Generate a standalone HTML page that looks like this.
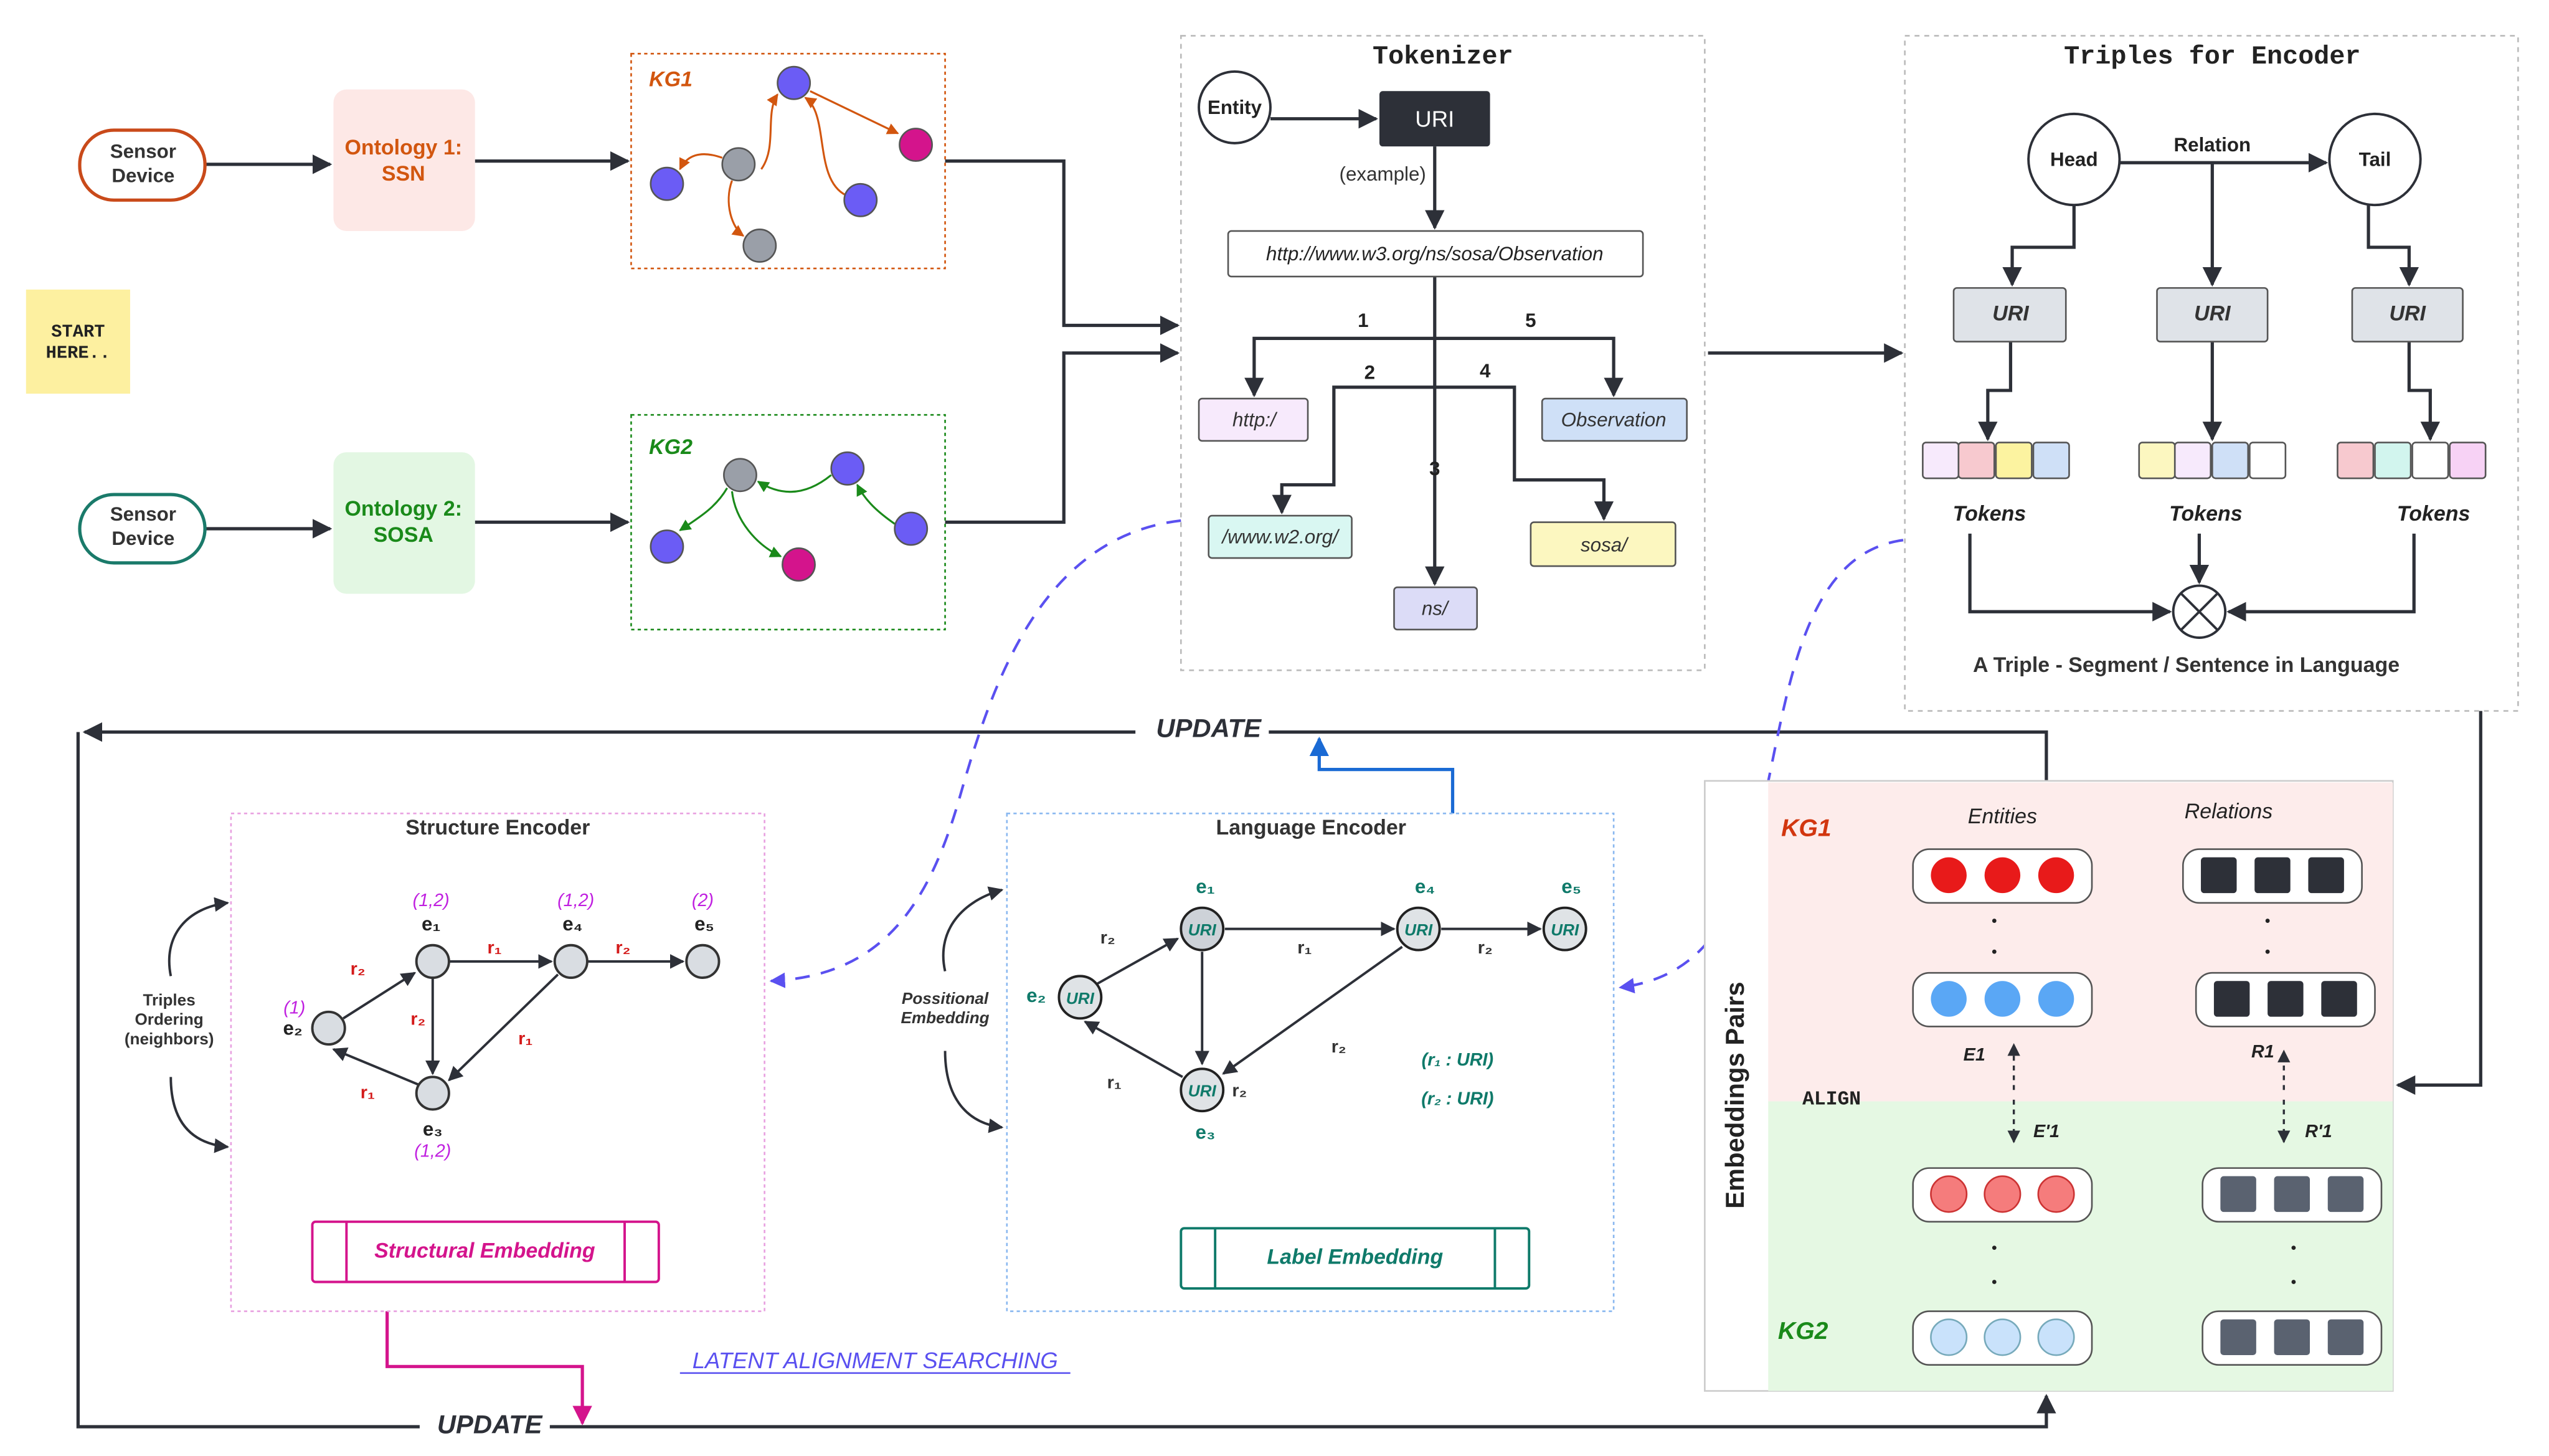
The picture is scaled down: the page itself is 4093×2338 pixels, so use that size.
<!DOCTYPE html>
<html><head><meta charset="utf-8"><style>
html,body{margin:0;padding:0;background:#fff;}
svg{display:block;}
text{font-family:"Liberation Sans",sans-serif;}
.mono{font-family:"Liberation Mono",monospace;}
</style></head><body>
<svg width="4093" height="2338" viewBox="0 0 1567 895" preserveAspectRatio="none" xmlns="http://www.w3.org/2000/svg">
<defs>
<marker id="a" viewBox="0 0 10 10" refX="9" refY="5" markerWidth="6" markerHeight="6" orient="auto-start-reverse"><path d="M0,0L10,5L0,10z" fill="#2d3038"/></marker>
<marker id="ao" viewBox="0 0 10 10" refX="9" refY="5" markerWidth="6" markerHeight="6" orient="auto"><path d="M0,0L10,5L0,10z" fill="#d2560f"/></marker>
<marker id="ag" viewBox="0 0 10 10" refX="9" refY="5" markerWidth="6" markerHeight="6" orient="auto"><path d="M0,0L10,5L0,10z" fill="#1a8a1a"/></marker>
<marker id="ab" viewBox="0 0 10 10" refX="9" refY="5" markerWidth="6" markerHeight="6" orient="auto"><path d="M0,0L10,5L0,10z" fill="#1a6ad4"/></marker>
<marker id="am" viewBox="0 0 10 10" refX="9" refY="5" markerWidth="6" markerHeight="6" orient="auto"><path d="M0,0L10,5L0,10z" fill="#d4148c"/></marker>
<marker id="ap" viewBox="0 0 10 10" refX="9" refY="5" markerWidth="6" markerHeight="6" orient="auto"><path d="M0,0L10,5L0,10z" fill="#5a50f0"/></marker>
</defs>
<g fill="none" stroke="#2d3038" stroke-width="2">
<path d="M126,101H203" marker-end="url(#a)"/>
<path d="M292,99H386" marker-end="url(#a)"/>
<path d="M126,325H203" marker-end="url(#a)"/>
<path d="M292,321H386" marker-end="url(#a)"/>
<path d="M581,99H654V200H724" marker-end="url(#a)"/>
<path d="M581,321H654V217H724" marker-end="url(#a)"/>
<path d="M1050,217H1169" marker-end="url(#a)"/>
<path d="M1525,437V667H1474" marker-end="url(#a)"/>
<path d="M781,73H846" marker-end="url(#a)"/>
<path d="M882,90V140" marker-end="url(#a)"/>
<path d="M882,170V359" marker-end="url(#a)"/>
<path d="M882,208H771V243" marker-end="url(#a)"/>
<path d="M882,208H992V243" marker-end="url(#a)"/>
<path d="M882,238H820V298H788V315" marker-end="url(#a)"/>
<path d="M882,238H931V295H986V319" marker-end="url(#a)"/>
<path d="M1303,100H1430" marker-end="url(#a)"/>
<path d="M1275,126V152H1237V175" marker-end="url(#a)"/>
<path d="M1360,100V175" marker-end="url(#a)"/>
<path d="M1456,126V152H1481V175" marker-end="url(#a)"/>
<path d="M1236,210V240H1222V270" marker-end="url(#a)"/>
<path d="M1360,210V270" marker-end="url(#a)"/>
<path d="M1481,210V240H1494V270" marker-end="url(#a)"/>
<path d="M1211,328V376H1334" marker-end="url(#a)"/>
<path d="M1484,328V376H1370" marker-end="url(#a)"/>
<path d="M1352,328V358" marker-end="url(#a)"/>
<path d="M1258,480V450H780M698,450H52" marker-end="url(#a)"/>
<path d="M48,450V877H258M338,877H1258V858" marker-end="url(#a)"/>
</g>
<path d="M893,500V473H811V454" fill="none" stroke="#1a6ad4" stroke-width="2" marker-end="url(#ab)"/>
<path d="M238,806V840H358V875" fill="none" stroke="#d4148c" stroke-width="2" marker-end="url(#am)"/>
<path d="M726,320C640,330 610,420 590,490C570,560 540,600 474,603" fill="none" stroke="#5a50f0" stroke-width="1.6" stroke-dasharray="9,7" marker-end="url(#ap)"/>
<path d="M1170,332C1110,340 1100,420 1085,490C1070,560 1050,600 996,607" fill="none" stroke="#5a50f0" stroke-width="1.6" stroke-dasharray="9,7" marker-end="url(#ap)"/>
<text x="743" y="453" font-size="16" font-weight="bold" font-style="italic" text-anchor="middle" fill="#2d3038">UPDATE</text>
<text x="301" y="881" font-size="16" font-weight="bold" font-style="italic" text-anchor="middle" fill="#2d3038">UPDATE</text>

<rect x="49" y="80" width="77" height="43" rx="21" fill="#fff" stroke="#c94a1a" stroke-width="2"/>
<text x="88" y="97" font-size="12" font-weight="bold" text-anchor="middle" fill="#333">Sensor</text>
<text x="88" y="112" font-size="12" font-weight="bold" text-anchor="middle" fill="#333">Device</text>
<rect x="49" y="304" width="77" height="42" rx="21" fill="#fff" stroke="#1a7a6a" stroke-width="2"/>
<text x="88" y="320" font-size="12" font-weight="bold" text-anchor="middle" fill="#333">Sensor</text>
<text x="88" y="335" font-size="12" font-weight="bold" text-anchor="middle" fill="#333">Device</text>
<rect x="205" y="55" width="87" height="87" rx="8" fill="#fde8e6"/>
<text x="248" y="95" font-size="13" font-weight="bold" text-anchor="middle" fill="#d2560f">Ontology 1:</text>
<text x="248" y="111" font-size="13" font-weight="bold" text-anchor="middle" fill="#d2560f">SSN</text>
<rect x="205" y="278" width="87" height="87" rx="8" fill="#e3f7e3"/>
<text x="248" y="317" font-size="13" font-weight="bold" text-anchor="middle" fill="#1a8a1a">Ontology 2:</text>
<text x="248" y="333" font-size="13" font-weight="bold" text-anchor="middle" fill="#1a8a1a">SOSA</text>
<rect x="16" y="178" width="64" height="64" fill="#fdf0a0"/>
<text x="48" y="207" font-size="11" font-weight="bold" text-anchor="middle" fill="#222" class="mono">START</text>
<text x="48" y="220" font-size="11" font-weight="bold" text-anchor="middle" fill="#222" class="mono">HERE..</text>

<rect x="388" y="33" width="193" height="132" fill="none" stroke="#d2560f" stroke-dasharray="2,2"/>
<text x="399" y="53" font-size="13" font-weight="bold" font-style="italic" fill="#d2560f">KG1</text>
<g fill="none" stroke="#d2560f" stroke-width="1.2">
<path d="M498,56L552,82" marker-end="url(#ao)"/>
<path d="M444,97C430,92 422,96 418,104" marker-end="url(#ao)"/>
<path d="M468,104C478,90 470,70 478,58" marker-end="url(#ao)"/>
<path d="M520,120C500,110 510,70 495,60" marker-end="url(#ao)"/>
<path d="M450,111C445,125 450,140 457,145" marker-end="url(#ao)"/>
</g>
<g stroke="#555" stroke-width="1">
<circle cx="488" cy="51" r="10" fill="#6b5cf5"/><circle cx="563" cy="89" r="10" fill="#d4148c"/>
<circle cx="454" cy="101" r="10" fill="#9a9fa8"/><circle cx="410" cy="113" r="10" fill="#6b5cf5"/>
<circle cx="529" cy="123" r="10" fill="#6b5cf5"/><circle cx="467" cy="151" r="10" fill="#9a9fa8"/>
</g>
<rect x="388" y="255" width="193" height="132" fill="none" stroke="#1a8a1a" stroke-dasharray="2,2"/>
<text x="399" y="279" font-size="13" font-weight="bold" font-style="italic" fill="#1a8a1a">KG2</text>
<g fill="none" stroke="#1a8a1a" stroke-width="1.2">
<path d="M511,292C495,305 480,305 466,296" marker-end="url(#ag)"/>
<path d="M447,300C440,312 430,318 418,326" marker-end="url(#ag)"/>
<path d="M450,302C452,320 465,335 480,342" marker-end="url(#ag)"/>
<path d="M550,322C540,315 532,308 527,298" marker-end="url(#ag)"/>
</g>
<g stroke="#555" stroke-width="1">
<circle cx="455" cy="292" r="10" fill="#9a9fa8"/><circle cx="521" cy="288" r="10" fill="#6b5cf5"/>
<circle cx="410" cy="336" r="10" fill="#6b5cf5"/><circle cx="491" cy="347" r="10" fill="#d4148c"/>
<circle cx="560" cy="325" r="10" fill="#6b5cf5"/>
</g>

<rect x="726" y="22" width="322" height="390" fill="none" stroke="#bbb" stroke-dasharray="3,3"/>
<text x="887" y="39" font-size="16" font-weight="bold" text-anchor="middle" class="mono" fill="#222">Tokenizer</text>
<circle cx="759" cy="66" r="22" fill="#fff" stroke="#2d3038" stroke-width="1.5"/>
<text x="759" y="70" font-size="12" font-weight="bold" text-anchor="middle" fill="#222">Entity</text>
<rect x="848" y="56" width="68" height="34" rx="2" fill="#2d3038"/>
<text x="882" y="78" font-size="14" text-anchor="middle" fill="#fff">URI</text>
<text x="850" y="111" font-size="12" text-anchor="middle" fill="#333">(example)</text>
<rect x="755" y="142" width="255" height="28" rx="2" fill="#fff" stroke="#555"/>
<text x="882" y="160" font-size="12" font-style="italic" text-anchor="middle" fill="#222">http://www.w3.org/ns/sosa/Observation</text>
<g font-size="12" font-weight="bold" text-anchor="middle" fill="#222">
<text x="838" y="201">1</text><text x="941" y="201">5</text><text x="842" y="233">2</text><text x="913" y="232">4</text><text x="882" y="292">3</text>
</g>
<g stroke="#555" stroke-width="1">
<rect x="737" y="245" width="67" height="26" rx="2" fill="#f7eafc"/>
<rect x="948" y="245" width="89" height="26" rx="2" fill="#cfe0f7"/>
<rect x="743" y="317" width="88" height="26" rx="2" fill="#d9f7f2"/>
<rect x="941" y="321" width="89" height="27" rx="2" fill="#fcf7c0"/>
<rect x="857" y="361" width="51" height="26" rx="2" fill="#dcdcf7"/>
</g>
<g font-size="12" font-style="italic" text-anchor="middle" fill="#333">
<text x="771" y="262">http:/</text><text x="992" y="262">Observation</text><text x="787" y="334">/www.w2.org/</text>
<text x="986" y="339">sosa/</text><text x="882" y="378">ns/</text>
</g>

<rect x="1171" y="22" width="377" height="415" fill="none" stroke="#bbb" stroke-dasharray="3,3"/>
<text x="1360" y="39" font-size="16" font-weight="bold" text-anchor="middle" class="mono" fill="#222">Triples for Encoder</text>
<circle cx="1275" cy="98" r="28" fill="#fff" stroke="#2d3038" stroke-width="1.5"/>
<circle cx="1460" cy="98" r="28" fill="#fff" stroke="#2d3038" stroke-width="1.5"/>
<text x="1275" y="102" font-size="12" font-weight="bold" text-anchor="middle" fill="#222">Head</text>
<text x="1460" y="102" font-size="12" font-weight="bold" text-anchor="middle" fill="#222">Tail</text>
<text x="1360" y="93" font-size="12" font-weight="bold" text-anchor="middle" fill="#222">Relation</text>
<g fill="#dfe3e8" stroke="#555"><rect x="1201" y="177" width="69" height="33" rx="2"/><rect x="1326" y="177" width="68" height="33" rx="2"/><rect x="1446" y="177" width="68" height="33" rx="2"/></g>
<g font-size="13" font-weight="bold" font-style="italic" text-anchor="middle" fill="#333"><text x="1236" y="197">URI</text><text x="1360" y="197">URI</text><text x="1480" y="197">URI</text></g>
<g stroke="#555">
<rect x="1182" y="272" width="22" height="22" rx="2" fill="#f7eafc"/><rect x="1204" y="272" width="22" height="22" rx="2" fill="#f7c9cf"/><rect x="1227" y="272" width="22" height="22" rx="2" fill="#fcf3a0"/><rect x="1250" y="272" width="22" height="22" rx="2" fill="#cfe0f7"/>
<rect x="1315" y="272" width="22" height="22" rx="2" fill="#fcf7c0"/><rect x="1337" y="272" width="22" height="22" rx="2" fill="#f7eafc"/><rect x="1360" y="272" width="22" height="22" rx="2" fill="#cfe0f7"/><rect x="1383" y="272" width="22" height="22" rx="2" fill="#fff"/>
<rect x="1437" y="272" width="22" height="22" rx="2" fill="#f7c9cf"/><rect x="1460" y="272" width="22" height="22" rx="2" fill="#d2f5ee"/><rect x="1483" y="272" width="22" height="22" rx="2" fill="#fff"/><rect x="1506" y="272" width="22" height="22" rx="2" fill="#f7d2f5"/>
</g>
<g font-size="13" font-weight="bold" font-style="italic" text-anchor="middle" fill="#222"><text x="1223" y="320">Tokens</text><text x="1356" y="320">Tokens</text><text x="1496" y="320">Tokens</text></g>
<circle cx="1352" cy="376" r="16" fill="#fff" stroke="#2d3038" stroke-width="1.5"/>
<path d="M1341,365L1363,387M1363,365L1341,387" stroke="#2d3038" stroke-width="1.5"/>
<text x="1344" y="413" font-size="13" font-weight="bold" text-anchor="middle" fill="#333">A Triple - Segment / Sentence in Language</text>

<rect x="1048" y="480" width="423" height="375" fill="#fff" stroke="#ccc"/>
<rect x="1087" y="481" width="384" height="196" fill="#fdeceb"/>
<rect x="1087" y="677" width="384" height="178" fill="#e5f8e3"/>
<text transform="translate(1072,743) rotate(-90)" font-size="16" font-weight="bold" fill="#222">Embeddings Pairs</text>
<text x="1095" y="514" font-size="15" font-weight="bold" font-style="italic" fill="#d2360f">KG1</text>
<text x="1093" y="823" font-size="15" font-weight="bold" font-style="italic" fill="#1a8a1a">KG2</text>
<text x="1231" y="506" font-size="13" font-style="italic" text-anchor="middle" fill="#222">Entities</text>
<text x="1370" y="503" font-size="13" font-style="italic" text-anchor="middle" fill="#222">Relations</text>
<text x="1126" y="679" font-size="12" font-weight="bold" text-anchor="middle" class="mono" fill="#222">ALIGN</text>
<g stroke="#555" fill="#fff">
<rect x="1176" y="522" width="110" height="33" rx="10"/><rect x="1176" y="598" width="110" height="33" rx="10"/>
<rect x="1176" y="718" width="110" height="33" rx="10"/><rect x="1176" y="806" width="110" height="33" rx="10"/>
<rect x="1342" y="522" width="110" height="33" rx="10"/><rect x="1350" y="598" width="110" height="33" rx="10"/>
<rect x="1354" y="718" width="110" height="33" rx="10"/><rect x="1354" y="806" width="110" height="33" rx="10"/>
</g>
<g fill="#e81a1a"><circle cx="1198" cy="538" r="11"/><circle cx="1231" cy="538" r="11"/><circle cx="1264" cy="538" r="11"/></g>
<g fill="#5aa7f5"><circle cx="1198" cy="614" r="11"/><circle cx="1231" cy="614" r="11"/><circle cx="1264" cy="614" r="11"/></g>
<g fill="#f57c7c" stroke="#c33"><circle cx="1198" cy="734" r="11"/><circle cx="1231" cy="734" r="11"/><circle cx="1264" cy="734" r="11"/></g>
<g fill="#c9e2fb" stroke="#7ab"><circle cx="1198" cy="822" r="11"/><circle cx="1231" cy="822" r="11"/><circle cx="1264" cy="822" r="11"/></g>
<g fill="#2d3038"><rect x="1353" y="527" width="22" height="22" rx="2"/><rect x="1386" y="527" width="22" height="22" rx="2"/><rect x="1419" y="527" width="22" height="22" rx="2"/>
<rect x="1361" y="603" width="22" height="22" rx="2"/><rect x="1394" y="603" width="22" height="22" rx="2"/><rect x="1427" y="603" width="22" height="22" rx="2"/></g>
<g fill="#5a6270"><rect x="1365" y="723" width="22" height="22" rx="2"/><rect x="1398" y="723" width="22" height="22" rx="2"/><rect x="1431" y="723" width="22" height="22" rx="2"/>
<rect x="1365" y="811" width="22" height="22" rx="2"/><rect x="1398" y="811" width="22" height="22" rx="2"/><rect x="1431" y="811" width="22" height="22" rx="2"/></g>
<g fill="#222"><circle cx="1226" cy="566" r="1.3"/><circle cx="1226" cy="585" r="1.3"/><circle cx="1394" cy="566" r="1.3"/><circle cx="1394" cy="585" r="1.3"/>
<circle cx="1226" cy="767" r="1.3"/><circle cx="1226" cy="788" r="1.3"/><circle cx="1410" cy="767" r="1.3"/><circle cx="1410" cy="788" r="1.3"/></g>
<g fill="none" stroke="#2d3038" stroke-width="1.3" stroke-dasharray="3,3">
<path d="M1238,670V642" marker-end="url(#a)"/><path d="M1238,676V702" marker-end="url(#a)"/>
<path d="M1404,670V646" marker-end="url(#a)"/><path d="M1404,676V702" marker-end="url(#a)"/>
</g>
<g font-size="11" font-weight="bold" font-style="italic" fill="#222" class="mono">
<text x="1207" y="652">E1</text><text x="1250" y="699">E'1</text><text x="1384" y="650">R1</text><text x="1417" y="699">R'1</text>
</g>

<rect x="142" y="500" width="328" height="306" fill="none" stroke="#e8a0e0" stroke-dasharray="2,2"/>
<text x="306" y="513" font-size="13" font-weight="bold" text-anchor="middle" fill="#333">Structure Encoder</text>
<text x="104" y="618" font-size="10" font-weight="bold" text-anchor="middle" fill="#333">Triples</text>
<text x="104" y="630" font-size="10" font-weight="bold" text-anchor="middle" fill="#333">Ordering</text>
<text x="104" y="642" font-size="10" font-weight="bold" text-anchor="middle" fill="#333">(neighbors)</text>
<g fill="none" stroke="#2d3038" stroke-width="1.5">
<path d="M105,600C100,575 115,558 140,555" marker-end="url(#a)"/>
<path d="M105,662C105,690 118,703 140,705" marker-end="url(#a)"/>
<path d="M211,626L255,598" marker-end="url(#a)"/>
<path d="M276,591H339" marker-end="url(#a)"/>
<path d="M361,591H420" marker-end="url(#a)"/>
<path d="M266,601V660" marker-end="url(#a)"/>
<path d="M343,599L276,664" marker-end="url(#a)"/>
<path d="M258,667L205,645" marker-end="url(#a)"/>
<path d="M581,597C576,575 588,555 616,547" marker-end="url(#a)"/>
<path d="M581,646C581,672 592,690 616,693" marker-end="url(#a)"/>
</g>
<g fill="#d9dde2" stroke="#333" stroke-width="1.5">
<circle cx="266" cy="591" r="10"/><circle cx="351" cy="591" r="10"/><circle cx="432" cy="591" r="10"/>
<circle cx="202" cy="632" r="10"/><circle cx="266" cy="672" r="10"/>
</g>
<g font-size="12" font-weight="bold" fill="#222" text-anchor="middle">
<text x="265" y="572">e₁</text><text x="352" y="572">e₄</text><text x="433" y="572">e₅</text><text x="180" y="636">e₂</text><text x="266" y="698">e₃</text>
</g>
<g font-size="11" font-style="italic" fill="#c020e0" text-anchor="middle">
<text x="265" y="557">(1,2)</text><text x="354" y="557">(1,2)</text><text x="432" y="557">(2)</text><text x="181" y="623">(1)</text><text x="266" y="711">(1,2)</text>
</g>
<g font-size="11" font-weight="bold" fill="#d41a1a" text-anchor="middle">
<text x="220" y="599">r₂</text><text x="304" y="586">r₁</text><text x="383" y="586">r₂</text><text x="257" y="630">r₂</text><text x="323" y="642">r₁</text><text x="226" y="675">r₁</text>
</g>
<rect x="192" y="751" width="213" height="37" rx="2" fill="#fff" stroke="#d4148c" stroke-width="1.5"/>
<path d="M213,751V788M384,751V788" stroke="#d4148c" stroke-width="1.5"/>
<text x="298" y="773" font-size="13" font-weight="bold" font-style="italic" text-anchor="middle" fill="#d4148c">Structural Embedding</text>

<rect x="619" y="500" width="373" height="306" fill="none" stroke="#8ab8f0" stroke-dasharray="2,2"/>
<text x="806" y="513" font-size="13" font-weight="bold" text-anchor="middle" fill="#333">Language Encoder</text>
<text x="581" y="617" font-size="10" font-weight="bold" font-style="italic" text-anchor="middle" fill="#333">Possitional</text>
<text x="581" y="629" font-size="10" font-weight="bold" font-style="italic" text-anchor="middle" fill="#333">Embedding</text>
<g fill="none" stroke="#2d3038" stroke-width="1.5">
<path d="M674,605L724,577" marker-end="url(#a)"/>
<path d="M753,571H857" marker-end="url(#a)"/>
<path d="M886,571H947" marker-end="url(#a)"/>
<path d="M739,585V654" marker-end="url(#a)"/>
<path d="M862,582L752,660" marker-end="url(#a)"/>
<path d="M727,662L667,628" marker-end="url(#a)"/>
</g>
<g fill="#dfe3e6" stroke="#222" stroke-width="1.5">
<circle cx="739" cy="571" r="13" fill="#cdd2d8"/><circle cx="872" cy="571" r="13"/><circle cx="962" cy="571" r="13"/>
<circle cx="664" cy="613" r="13"/><circle cx="739" cy="670" r="13"/>
</g>
<g font-size="10" font-weight="bold" font-style="italic" fill="#0f7a6a" text-anchor="middle">
<text x="739" y="575">URI</text><text x="872" y="575">URI</text><text x="962" y="575">URI</text><text x="664" y="617">URI</text><text x="739" y="674">URI</text>
</g>
<g font-size="12" font-weight="bold" fill="#0f7a6a" text-anchor="middle">
<text x="741" y="549">e₁</text><text x="876" y="549">e₄</text><text x="966" y="549">e₅</text><text x="637" y="616">e₂</text><text x="741" y="700">e₃</text>
</g>
<g font-size="11" font-weight="bold" fill="#333" text-anchor="middle">
<text x="681" y="580">r₂</text><text x="802" y="586">r₁</text><text x="913" y="586">r₂</text><text x="823" y="647">r₂</text><text x="685" y="669">r₁</text><text x="762" y="674">r₂</text>
</g>
<text x="896" y="655" font-size="11" font-weight="bold" font-style="italic" text-anchor="middle" fill="#0f7a6a">(r₁ : URI)</text>
<text x="896" y="679" font-size="11" font-weight="bold" font-style="italic" text-anchor="middle" fill="#0f7a6a">(r₂ : URI)</text>
<rect x="726" y="755" width="214" height="37" rx="2" fill="#fff" stroke="#0f7a6a" stroke-width="1.5"/>
<path d="M747,755V792M919,755V792" stroke="#0f7a6a" stroke-width="1.5"/>
<text x="833" y="777" font-size="13" font-weight="bold" font-style="italic" text-anchor="middle" fill="#0f7a6a">Label Embedding</text>

<text x="538" y="841" font-size="14" text-anchor="middle" fill="#5a50f0" font-style="italic">LATENT ALIGNMENT SEARCHING</text>
<path d="M418,844H658" stroke="#5a50f0" stroke-width="1"/>
</svg>
</body></html>
